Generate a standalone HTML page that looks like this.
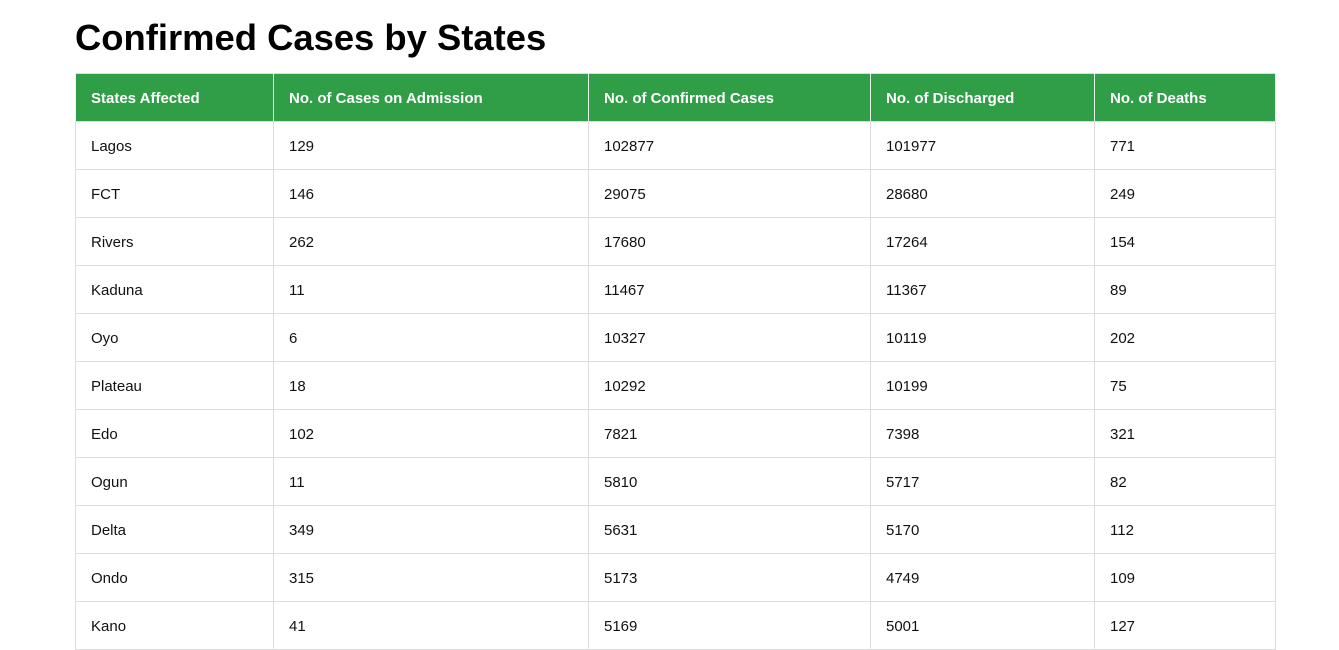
<!DOCTYPE html>
<html><head><meta charset="utf-8"><style>
body{margin:0;width:1339px;height:647px;overflow:hidden;background:#fff;font-family:"Liberation Sans",sans-serif;}
h1{position:absolute;left:75px;top:16px;margin:0;font-size:36.4px;font-weight:bold;color:#000;letter-spacing:0;line-height:44px;}
table{position:absolute;left:75px;top:73px;border-collapse:collapse;table-layout:fixed;width:1200px;}
th,td{border:1px solid #ddd;height:48px;padding:1px 0 0 15px;text-align:left;font-size:15px;box-sizing:border-box;}
th{background:#2f9e47;color:#fff;font-weight:bold;border-color:#ddd #e8f3ea;}
td{color:#111;}
</style></head><body>
<h1>Confirmed Cases by States</h1>
<table>
<colgroup><col style="width:198px"><col style="width:315px"><col style="width:282px"><col style="width:224px"><col style="width:181px"></colgroup>
<thead><tr>
<th>States Affected</th>
<th>No. of Cases on Admission</th>
<th>No. of Confirmed Cases</th>
<th>No. of Discharged</th>
<th>No. of Deaths</th>
</tr></thead>
<tbody>
<tr><td>Lagos</td><td>129</td><td>102877</td><td>101977</td><td>771</td></tr>
<tr><td>FCT</td><td>146</td><td>29075</td><td>28680</td><td>249</td></tr>
<tr><td>Rivers</td><td>262</td><td>17680</td><td>17264</td><td>154</td></tr>
<tr><td>Kaduna</td><td>11</td><td>11467</td><td>11367</td><td>89</td></tr>
<tr><td>Oyo</td><td>6</td><td>10327</td><td>10119</td><td>202</td></tr>
<tr><td>Plateau</td><td>18</td><td>10292</td><td>10199</td><td>75</td></tr>
<tr><td>Edo</td><td>102</td><td>7821</td><td>7398</td><td>321</td></tr>
<tr><td>Ogun</td><td>11</td><td>5810</td><td>5717</td><td>82</td></tr>
<tr><td>Delta</td><td>349</td><td>5631</td><td>5170</td><td>112</td></tr>
<tr><td>Ondo</td><td>315</td><td>5173</td><td>4749</td><td>109</td></tr>
<tr><td>Kano</td><td>41</td><td>5169</td><td>5001</td><td>127</td></tr>
</tbody></table>
</body></html>
